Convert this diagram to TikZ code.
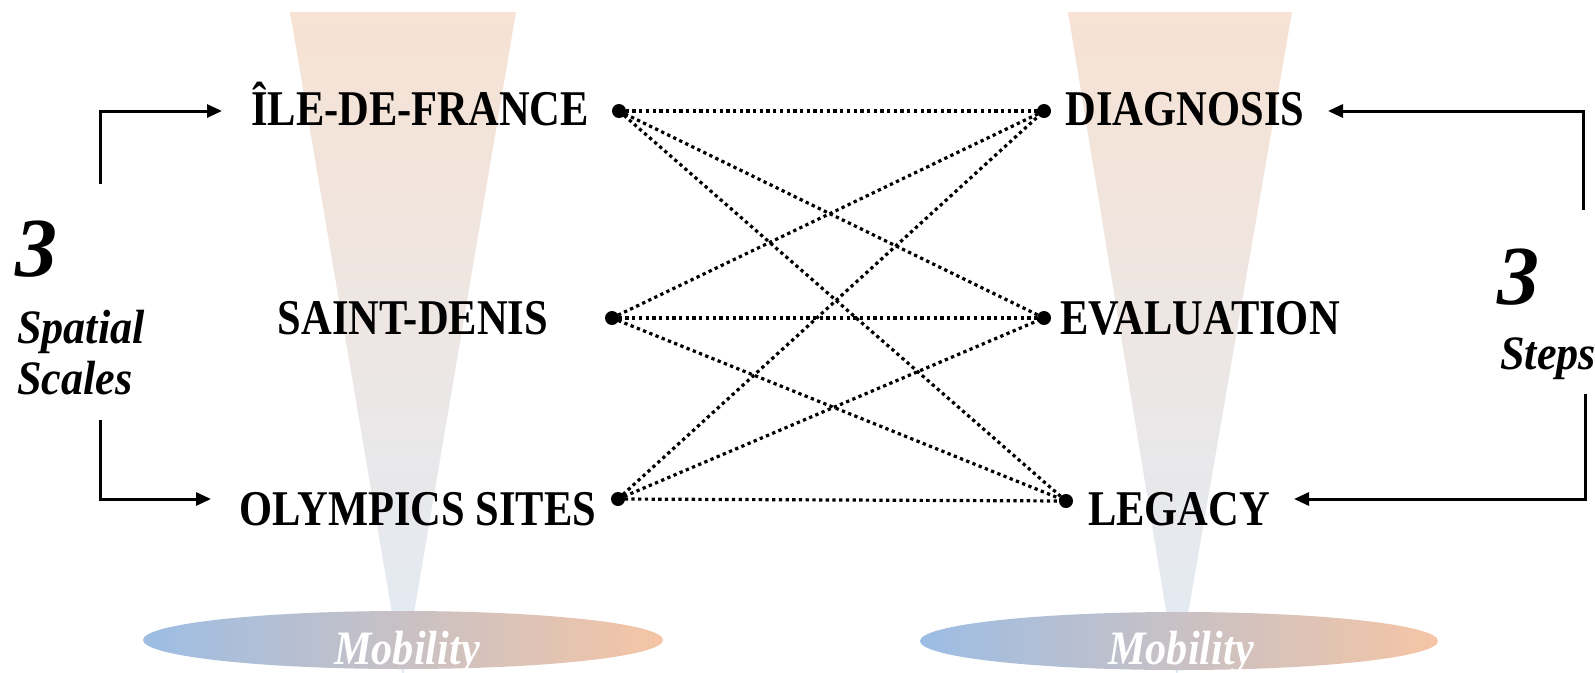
\documentclass[tikz,border=0pt]{standalone}
\usepackage{fontspec}
\setmainfont{Liberation Serif}
\newfontfamily\capfont[FakeStretch=0.85]{Liberation Serif}
\newfontfamily\itfont[FakeStretch=0.92]{Liberation Serif}
\newfontfamily\mobfont[FakeStretch=0.88]{Liberation Serif}
\usetikzlibrary{arrows.meta}
\definecolor{conetop}{HTML}{F7E2D3}
\definecolor{conemid}{HTML}{ECE6E6}
\definecolor{conebot}{HTML}{E2EBF5}
\definecolor{ellleft}{HTML}{9CBDE4}
\definecolor{ellright}{HTML}{F5C5A5}
\tikzset{
  caplabel/.style={font=\capfont\bfseries\fontsize{50}{50}\selectfont, inner sep=0pt, anchor=base},
  itlabel/.style={font=\itfont\bfseries\itshape\fontsize{48}{48}\selectfont, inner sep=0pt, anchor=base west},
  bignum/.style={font=\bfseries\itshape\fontsize{84}{84}\selectfont, inner sep=0pt, anchor=base west},
  moblabel/.style={font=\mobfont\bfseries\itshape\fontsize{48}{48}\selectfont, text=white, inner sep=0pt, anchor=base},
  dotnode/.style={circle, fill=black, inner sep=0pt, minimum size=14pt},
  link/.style={line width=3.2pt, dash pattern=on 3.3pt off 3.4pt},
  flow/.style={line width=3pt, -{Triangle[length=15pt,width=13pt]}}
}
\begin{document}
\begin{tikzpicture}[x=1pt,y=-1pt]
\useasboundingbox (0,0) rectangle (1595,672);
% cones
\shade[top color=conetop, middle color=conemid, bottom color=conebot] (290,12) -- (516,12) -- (403,678) -- cycle;
\shade[top color=conetop, middle color=conemid, bottom color=conebot] (1068,12) -- (1292,12) -- (1177,678) -- cycle;
% ellipses
\shade[left color=ellleft, right color=ellright] (403,640) ellipse [x radius=260pt, y radius=29pt];
\shade[left color=ellleft, right color=ellright] (1179,641) ellipse [x radius=259pt, y radius=29pt];
\node[moblabel] (mob1) at (407,664) {Mobility};
\node[moblabel] (mob2) at (1181,664) {Mobility};
% dots
\node[dotnode] (l1) at (619,111) {};
\node[dotnode] (l2) at (612,318) {};
\node[dotnode] (l3) at (618,499) {};
\node[dotnode] (r1) at (1044,111) {};
\node[dotnode] (r2) at (1044,318) {};
\node[dotnode] (r3) at (1066,501) {};
\foreach \a in {l1,l2,l3}{
  \foreach \b in {r1,r2,r3}{
    \draw[link] (\a.center) -- (\b.center);
  }
}
% labels
\node[caplabel] (ile) at (420,125) {ÎLE-DE-FRANCE};
\node[caplabel] (sd) at (413,334) {SAINT-DENIS};
\node[caplabel] (oly) at (418,525) {OLYMPICS SITES};
\node[caplabel] (diag) at (1185,125) {DIAGNOSIS};
\node[caplabel] (eval) at (1200,334) {EVALUATION};
\node[caplabel] (leg) at (1179,525) {LEGACY};
% side texts
\node[bignum] (n1) at (15,276) {3};
\node[itlabel] (sp1) at (17,343) {Spatial};
\node[itlabel] (sp2) at (17,394) {Scales};
\node[bignum] (n2) at (1497,304) {3};
\node[itlabel] (st) at (1500,369) {Steps};
% arrows
\coordinate (la1) at (100,184);
\coordinate (la1e) at (222,111);
\coordinate (la2) at (100,420);
\coordinate (la2e) at (211,499);
\coordinate (ra1) at (1583,210);
\coordinate (ra1e) at (1328,111);
\coordinate (ra2) at (1585,394);
\coordinate (ra2e) at (1294,499);
\draw[flow] (la1) |- (la1e);
\draw[flow] (la2) |- (la2e);
\draw[flow] (ra1) |- (ra1e);
\draw[flow] (ra2) |- (ra2e);
\end{tikzpicture}
\end{document}
